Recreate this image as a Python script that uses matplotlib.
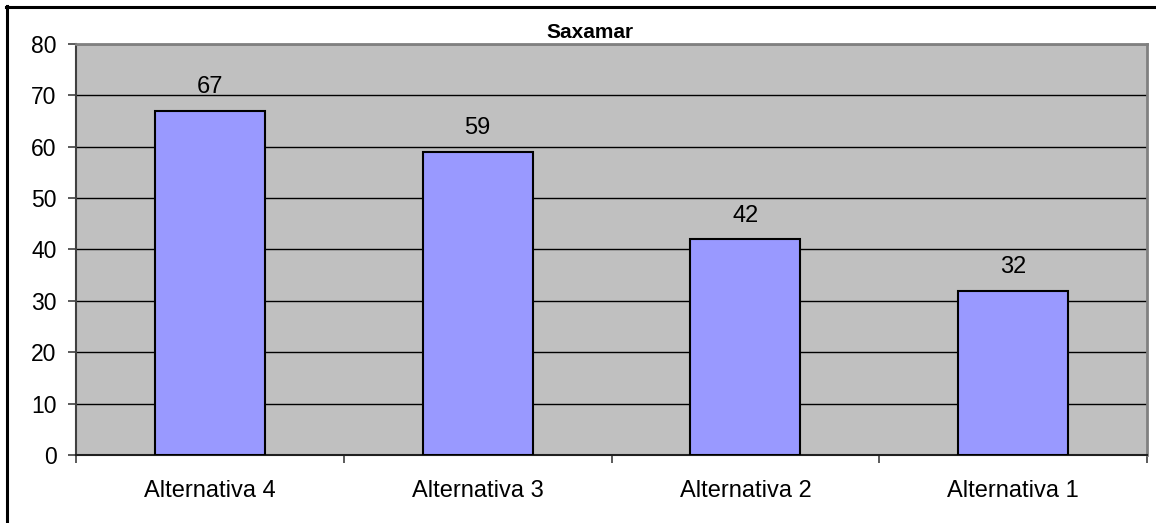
import numpy as np
from matplotlib import pyplot as plt
from matplotlib.lines import Line2D

# dados
categorias = ['Alternativa 4', 'Alternativa 3', 'Alternativa 2', 'Alternativa 1']
valores = [67, 59, 42, 32]
y_ticks = [0, 10, 20, 30, 40, 50, 60, 70, 80]

plt.rcParams['font.family'] = ['Liberation Sans', 'DejaVu Sans']

fig = plt.figure(figsize=(11.56, 5.23), dpi=100)
ax = fig.add_axes([76 / 1156, 68 / 523, 1071 / 1156, 411 / 523])

x = np.arange(len(categorias))
ax.set_facecolor('#C0C0C0')
ax.bar(x, valores, width=0.41, color='#9999FF', edgecolor='black', linewidth=1.5, zorder=3)

for xi, v in zip(x, valores):
    ax.annotate(str(v), (xi, v), xytext=(0, 9), textcoords='offset points',
                ha='center', va='bottom', fontsize=17, zorder=4)

ax.set_xlim(-0.5, len(categorias) - 0.5)
ax.set_ylim(0, 80)
ax.set_yticks(y_ticks)
ax.yaxis.grid(True, color='black', linewidth=1.0, zorder=1)
ax.set_axisbelow(True)

ax.set_xticks(x)
ax.set_xticklabels(categorias, fontsize=17)
ax.set_xticks(np.arange(-0.5, len(categorias)), minor=True)
ax.tick_params(axis='x', which='major', length=0, pad=18)
ax.tick_params(axis='x', which='minor', length=6, width=1.2, color='#404040', direction='out')
ax.tick_params(axis='y', length=6, width=1.2, labelsize=16.5, pad=8, color='#404040')

ax.spines['left'].set_color('#404040')
ax.spines['left'].set_linewidth(1.5)
ax.spines['bottom'].set_color('#202020')
ax.spines['bottom'].set_linewidth(1.5)
ax.spines['top'].set_color('#808080')
ax.spines['top'].set_linewidth(2)
ax.spines['right'].set_color('#808080')
ax.spines['right'].set_linewidth(2)

fig.text(590 / 1156, 1 - 33 / 523, 'Saxamar', ha='center', va='center',
         fontsize=15, fontweight='bold')

# moldura externa (topo e esquerda)
fig.add_artist(Line2D([6 / 1156, 1], [1 - 7 / 523, 1 - 7 / 523], color='black', linewidth=2.2))
fig.add_artist(Line2D([7 / 1156, 7 / 1156], [0, 1 - 6 / 523], color='black', linewidth=2.2))

fig.savefig('out.png', dpi=100)
